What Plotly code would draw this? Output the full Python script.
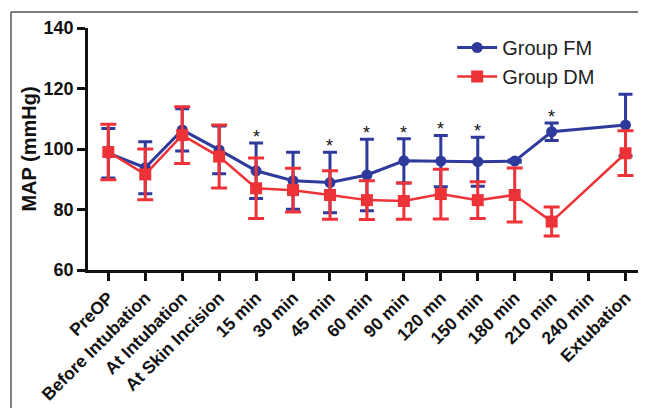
import plotly.graph_objects as go

categories = ["PreOP", "Before Intubation", "At Intubation", "At Skin Incision",
              "15 min", "30 min", "45 min", "60 min", "90 min", "120 mn",
              "150 min", "180 min", "210 min", "240 min", "Extubation"]

fm_mean = [98.6, 93.8, 106.3, 99.7, 92.8, 89.5, 88.9, 91.4, 96.1, 96.0, 95.8, 96.0, 105.7, None, 107.9]
fm_sd = [8.2, 8.6, 7.0, 7.9, 9.2, 9.4, 10.0, 11.8, 7.3, 8.5, 8.1, 0.4, 2.9, None, 10.2]

dm_mean = [99.0, 91.6, 104.6, 97.5, 87.0, 86.4, 84.8, 83.1, 82.8, 85.1, 83.1, 84.8, 76.0, None, 98.6]
dm_sd = [9.2, 8.4, 9.4, 10.4, 10.0, 7.2, 8.0, 6.4, 6.0, 8.2, 6.1, 8.9, 4.8, None, 7.4]

significant = ["15 min", "45 min", "60 min", "90 min", "120 mn", "150 min", "210 min"]

BLUE = "#2E3B9C"
RED = "#EE3338"
FONT = "Arial, Liberation Sans, sans-serif"

# page body has an 8px margin, so the figure is drawn offset by 8px
W, H = 638, 400
ML, MR, MT, MB = 80, 2, 20, 138

fig = go.Figure()
fig.add_trace(go.Scatter(
    x=categories, y=fm_mean, name="Group FM", mode="lines+markers",
    connectgaps=True,
    line=dict(color=BLUE, width=3),
    marker=dict(symbol="circle", size=11, color=BLUE),
    error_y=dict(type="data", array=fm_sd, visible=True, color=BLUE, thickness=3, width=7),
))
fig.add_trace(go.Scatter(
    x=categories, y=dm_mean, name="Group DM", mode="lines+markers",
    connectgaps=True,
    line=dict(color=RED, width=2.5),
    marker=dict(symbol="square", size=12, color=RED),
    error_y=dict(type="data", array=dm_sd, visible=True, color=RED, thickness=3, width=8),
))

for cat in significant:
    i = categories.index(cat)
    fig.add_annotation(x=cat, y=fm_mean[i] + fm_sd[i], text="*", showarrow=False,
                       yanchor="bottom", yshift=-6,
                       font=dict(family=FONT, size=18, color="#111111"))

# outer frame (as in the reference image)
pw = W - ML - MR
ph = H - MT - MB
def px_x(p):
    return (p - ML) / pw
def px_y(p):
    return (H - MB - p) / ph
fig.add_shape(type="line", xref="paper", yref="paper",
              x0=px_x(3), x1=px_x(3), y0=px_y(4), y1=px_y(H),
              line=dict(color="#555555", width=1.5))
fig.add_shape(type="line", xref="paper", yref="paper",
              x0=px_x(3), x1=px_x(W), y0=px_y(4), y1=px_y(4),
              line=dict(color="#555555", width=1.5))

fig.update_layout(
    width=W, height=H,
    margin=dict(l=ML, r=MR, t=MT, b=MB, autoexpand=False),
    paper_bgcolor="white", plot_bgcolor="white",
    font=dict(family=FONT, color="#111111"),
    showlegend=True,
    legend=dict(x=0.655, y=1.0, xanchor="left", yanchor="top",
                font=dict(family=FONT, size=20, color="#222222"),
                bgcolor="rgba(0,0,0,0)", itemwidth=40, tracegroupgap=0),
    xaxis=dict(
        type="category", categoryorder="array", categoryarray=categories,
        range=[-0.55, 14.5],
        showline=True, linecolor="#111111", linewidth=2.5,
        ticks="outside", ticklen=8, tickwidth=2.5, tickcolor="#111111",
        tickangle=-45, showgrid=False, zeroline=False,
        tickfont=dict(family=FONT, size=17.5, weight=700, color="#111111"),
    ),
    yaxis=dict(
        range=[60, 140], tickvals=[60, 80, 100, 120, 140],
        showline=True, linecolor="#111111", linewidth=2.5,
        ticks="outside", ticklen=8, tickwidth=2.5, tickcolor="#111111",
        showgrid=False, zeroline=False,
        tickfont=dict(family=FONT, size=18, weight=700, color="#111111"),
        title=dict(text="MAP (mmHg)", standoff=2,
                   font=dict(family=FONT, size=20, weight=700, color="#111111")),
    ),
)

fig.write_html("out.html")
